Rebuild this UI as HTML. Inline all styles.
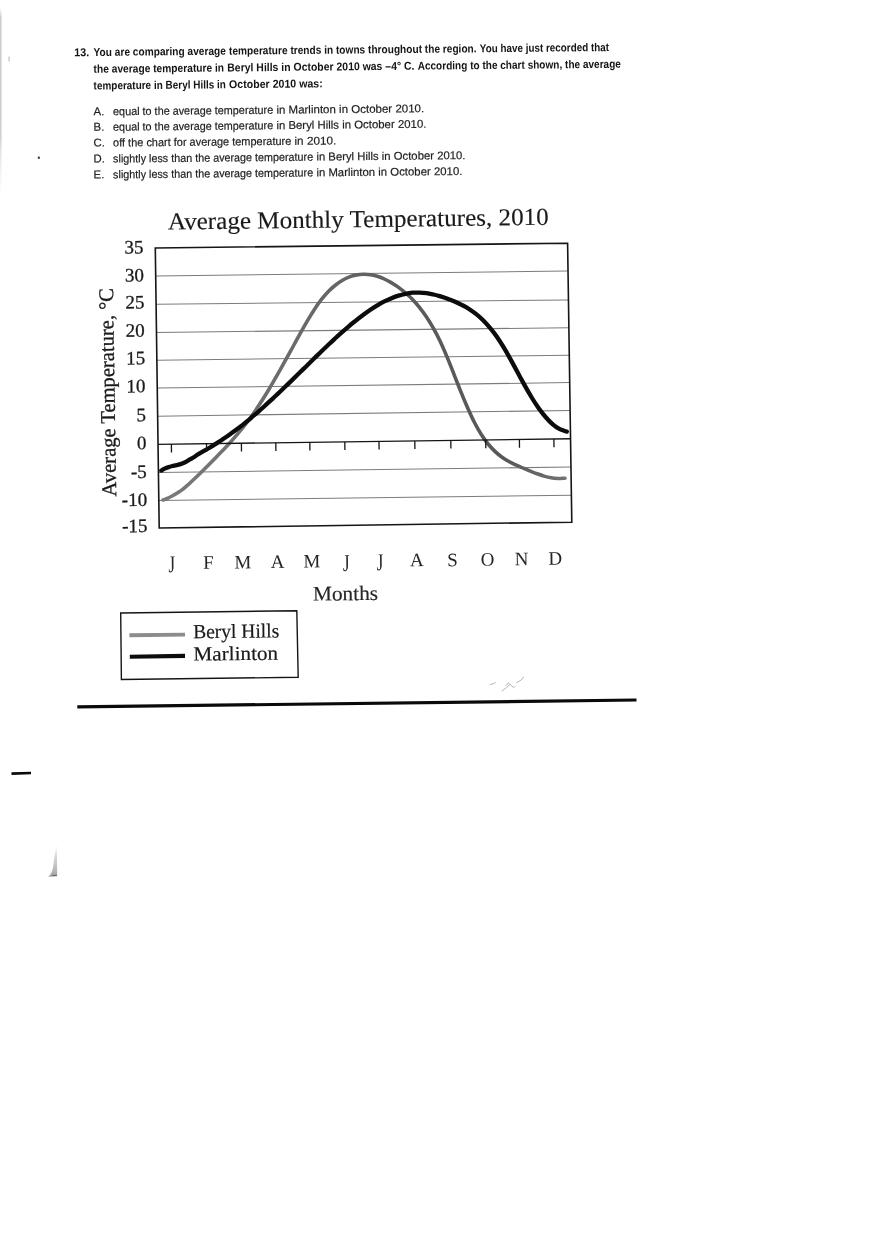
<!DOCTYPE html>
<html lang="en"><head><meta charset="utf-8"><title>Question 13</title>
<style>
html,body{margin:0;padding:0;background:#fff;}
body{width:880px;height:1247px;overflow:hidden;position:relative;}
svg{display:block;position:absolute;left:0;top:0;}
.q{font-family:"Liberation Sans",sans-serif;font-weight:bold;font-size:11.4px;fill:#141414;}
.o{font-family:"Liberation Sans",sans-serif;font-weight:normal;font-size:11.4px;fill:#1e1e1e;stroke:#1e1e1e;stroke-width:0.2px;}
.s{font-family:"Liberation Serif",serif;fill:#1a1a1a;stroke:#1a1a1a;stroke-width:0.3px;}
.m{font-family:"Liberation Serif",serif;fill:#262626;}
</style></head><body>
<svg width="880" height="1247" viewBox="0 0 880 1247" style="filter:blur(0.3px)">
<defs><linearGradient id="edge" x1="0" y1="0" x2="0" y2="1"><stop offset="0" stop-color="#cfcfcf" stop-opacity="0"/><stop offset="0.05" stop-color="#cdcdcd"/><stop offset="0.68" stop-color="#d0d0d0"/><stop offset="0.74" stop-color="#e2e2e2"/><stop offset="1" stop-color="#ececec" stop-opacity="0"/></linearGradient></defs>
<rect x="0" y="0" width="880" height="1247" fill="#ffffff"/>
<rect x="0" y="8" width="1.6" height="190" fill="url(#edge)"/>
<rect x="8.6" y="56.5" width="1" height="5" fill="#b5b5b5"/>
<rect x="37.8" y="156.6" width="2" height="2.2" fill="#333"/>
<text class="q" x="74.2" y="56.3" textLength="15.0" lengthAdjust="spacingAndGlyphs" transform="rotate(-0.55 74.2 56.3)">13.</text>
<text class="q" x="93.6" y="56.0" textLength="132.3" lengthAdjust="spacingAndGlyphs" transform="rotate(-0.55 93.6 56.0)">You are comparing average</text>
<text class="q" x="229.1" y="54.7" textLength="247.5" lengthAdjust="spacingAndGlyphs" transform="rotate(-0.55 229.1 54.7)">temperature trends in towns throughout the region.</text>
<text class="q" x="479.8" y="52.3" textLength="129.3" lengthAdjust="spacingAndGlyphs" transform="rotate(-0.55 479.8 52.3)">You have just recorded that</text>
<text class="q" x="93.6" y="72.8" textLength="130.5" lengthAdjust="spacingAndGlyphs" transform="rotate(-0.55 93.6 72.8)">the average temperature in</text>
<text class="q" x="227.3" y="71.5" textLength="187.2" lengthAdjust="spacingAndGlyphs" transform="rotate(-0.55 227.3 71.5)">Beryl Hills in October 2010 was –4° C.</text>
<text class="q" x="417.7" y="69.7" textLength="203.2" lengthAdjust="spacingAndGlyphs" transform="rotate(-0.55 417.7 69.7)">According to the chart shown, the average</text>
<text class="q" x="93.6" y="89.5" textLength="132.3" lengthAdjust="spacingAndGlyphs" transform="rotate(-0.55 93.6 89.5)">temperature in Beryl Hills in</text>
<text class="q" x="229.1" y="88.2" textLength="93.6" lengthAdjust="spacingAndGlyphs" transform="rotate(-0.55 229.1 88.2)">October 2010 was:</text>
<text class="o" x="93.6" y="115.3" transform="rotate(-0.55 93.6 115.3)">A.</text>
<text class="o" x="113.1" y="115.3" textLength="160.1" lengthAdjust="spacingAndGlyphs" transform="rotate(-0.55 113.1 115.3)">equal to the average temperature</text>
<text class="o" x="276.4" y="113.7" textLength="147.8" lengthAdjust="spacingAndGlyphs" transform="rotate(-0.55 276.4 113.7)">in Marlinton in October 2010.</text>
<text class="o" x="93.6" y="130.8" transform="rotate(-0.55 93.6 130.8)">B.</text>
<text class="o" x="113.1" y="130.8" textLength="160.1" lengthAdjust="spacingAndGlyphs" transform="rotate(-0.55 113.1 130.8)">equal to the average temperature</text>
<text class="o" x="276.4" y="129.2" textLength="150.0" lengthAdjust="spacingAndGlyphs" transform="rotate(-0.55 276.4 129.2)">in Beryl Hills in October 2010.</text>
<text class="o" x="93.6" y="146.6" transform="rotate(-0.55 93.6 146.6)">C.</text>
<text class="o" x="113.1" y="146.6" textLength="178.2" lengthAdjust="spacingAndGlyphs" transform="rotate(-0.55 113.1 146.6)">off the chart for average temperature</text>
<text class="o" x="294.5" y="144.9" textLength="41.9" lengthAdjust="spacingAndGlyphs" transform="rotate(-0.55 294.5 144.9)">in 2010.</text>
<text class="o" x="93.6" y="162.6" transform="rotate(-0.55 93.6 162.6)">D.</text>
<text class="o" x="113.1" y="162.6" textLength="200.1" lengthAdjust="spacingAndGlyphs" transform="rotate(-0.55 113.1 162.6)">slightly less than the average temperature</text>
<text class="o" x="316.4" y="160.6" textLength="149.1" lengthAdjust="spacingAndGlyphs" transform="rotate(-0.55 316.4 160.6)">in Beryl Hills in October 2010.</text>
<text class="o" x="93.6" y="178.4" transform="rotate(-0.55 93.6 178.4)">E.</text>
<text class="o" x="113.1" y="178.4" textLength="200.1" lengthAdjust="spacingAndGlyphs" transform="rotate(-0.55 113.1 178.4)">slightly less than the average temperature</text>
<text class="o" x="316.4" y="176.4" textLength="146.0" lengthAdjust="spacingAndGlyphs" transform="rotate(-0.55 316.4 176.4)">in Marlinton in October 2010.</text>
<text class="s" x="167.9" y="229.6" textLength="381.0" lengthAdjust="spacingAndGlyphs" transform="rotate(-0.72 167.9 229.6)" style="font-size:24.5px;stroke-width:0.15px">Average Monthly Temperatures, 2010</text>
<line x1="155.7" y1="276.0" x2="568.0" y2="271.0" stroke="#7c7c7c" stroke-width="1.05"/>
<line x1="156.1" y1="304.3" x2="568.4" y2="299.9" stroke="#7c7c7c" stroke-width="1.05"/>
<line x1="156.5" y1="332.5" x2="568.9" y2="327.7" stroke="#7c7c7c" stroke-width="1.05"/>
<line x1="156.9" y1="360.2" x2="569.3" y2="355.2" stroke="#7c7c7c" stroke-width="1.05"/>
<line x1="157.2" y1="388.1" x2="569.7" y2="382.6" stroke="#7c7c7c" stroke-width="1.05"/>
<line x1="157.6" y1="416.2" x2="570.1" y2="410.5" stroke="#7c7c7c" stroke-width="1.05"/>
<line x1="158.4" y1="472.5" x2="571.0" y2="467.0" stroke="#7c7c7c" stroke-width="1.05"/>
<line x1="158.8" y1="500.5" x2="571.4" y2="495.2" stroke="#7c7c7c" stroke-width="1.05"/>
<defs><linearGradient id="gg" gradientUnits="userSpaceOnUse" x1="160" y1="0" x2="568" y2="0"><stop offset="0" stop-color="#7a7a7a"/><stop offset="0.3" stop-color="#6c6c6c"/><stop offset="0.66" stop-color="#5a5a5a"/><stop offset="0.85" stop-color="#585858"/><stop offset="1" stop-color="#747474"/></linearGradient></defs>
<path d="M163.0 500.0C163.9 499.6 166.9 498.6 168.6 497.8C170.3 497.0 171.7 496.2 173.2 495.4C174.7 494.5 176.2 493.6 177.7 492.7C179.2 491.8 180.3 491.3 182.3 489.7C184.3 488.1 187.2 485.4 189.6 483.3C192.0 481.2 194.3 479.0 196.6 476.8C198.9 474.6 201.2 472.2 203.5 469.9C205.8 467.6 208.2 465.2 210.5 462.9C212.8 460.6 215.1 458.3 217.4 455.9C219.7 453.5 222.1 451.1 224.4 448.7C226.7 446.2 229.0 443.8 231.3 441.2C233.6 438.6 236.0 436.0 238.3 433.2C240.6 430.4 242.9 427.6 245.2 424.6C247.5 421.6 249.9 418.5 252.2 415.2C254.5 411.9 256.8 408.5 259.1 405.0C261.4 401.5 263.8 397.8 266.1 394.0C268.4 390.2 270.7 386.3 273.0 382.3C275.3 378.3 277.7 374.3 280.0 370.2C282.3 366.1 284.6 361.9 286.9 357.7C289.2 353.5 291.6 349.2 293.9 345.0C296.2 340.8 298.5 336.4 300.8 332.3C303.1 328.2 305.5 324.0 307.8 320.1C310.1 316.2 312.4 312.4 314.7 308.9C317.0 305.4 319.4 302.1 321.7 299.2C324.0 296.3 326.3 293.7 328.6 291.3C330.9 288.9 333.3 286.8 335.6 285.0C337.9 283.2 340.2 281.7 342.5 280.3C344.8 278.9 347.2 277.8 349.5 276.9C351.8 276.0 354.1 275.4 356.4 275.0C358.7 274.6 361.1 274.4 363.4 274.3C365.7 274.2 368.1 274.4 370.4 274.7C372.7 275.0 375.0 275.6 377.3 276.3C379.6 277.0 382.0 277.9 384.3 279.0C386.6 280.1 388.9 281.2 391.2 282.6C393.5 284.0 395.9 285.4 398.2 287.1C400.5 288.8 402.8 290.6 405.1 292.6C407.4 294.6 409.8 296.6 412.1 299.0C414.4 301.4 416.7 303.9 419.0 306.8C421.3 309.7 423.7 312.8 426.0 316.2C428.3 319.6 430.6 323.3 432.9 327.4C435.2 331.5 437.6 335.9 439.9 340.7C442.2 345.5 444.5 350.9 446.8 356.4C449.1 361.9 451.5 368.0 453.8 373.8C456.1 379.6 458.4 385.7 460.7 391.4C463.0 397.1 465.4 402.8 467.7 408.0C470.0 413.2 472.3 418.3 474.6 422.8C476.9 427.3 479.3 431.4 481.6 435.0C483.9 438.6 486.2 441.7 488.5 444.5C490.8 447.3 493.2 449.7 495.5 451.9C497.8 454.1 500.1 455.9 502.4 457.5C504.7 459.1 507.1 460.5 509.4 461.8C511.7 463.1 514.0 464.1 516.3 465.2C518.6 466.3 521.0 467.2 523.3 468.2C525.6 469.2 527.9 470.2 530.2 471.1C532.5 472.0 534.9 473.0 537.2 473.8C539.5 474.6 541.8 475.4 544.1 476.1C546.4 476.8 548.8 477.4 551.1 477.8C553.4 478.2 555.7 478.4 558.0 478.5C560.3 478.6 563.8 478.2 565.0 478.2" fill="none" stroke="url(#gg)" stroke-width="3.6" stroke-linecap="round" stroke-linejoin="round"/>
<path d="M161.3 470.6C161.8 470.3 162.9 469.5 164.1 468.9C165.3 468.3 167.1 467.6 168.6 467.1C170.1 466.6 171.7 466.2 173.2 465.8C174.7 465.4 176.3 465.2 177.8 464.8C179.3 464.4 180.8 464.0 182.3 463.4C183.8 462.8 185.3 462.1 186.8 461.3C188.3 460.5 189.9 459.5 191.4 458.6C192.9 457.7 194.5 456.7 196.0 455.7C197.5 454.7 198.3 454.1 200.5 452.8C202.7 451.5 206.5 449.5 209.1 448.0C211.7 446.5 213.8 445.1 216.1 443.6C218.4 442.1 220.8 440.6 223.1 439.0C225.4 437.4 227.8 435.9 230.1 434.2C232.4 432.5 234.8 430.8 237.2 429.0C239.5 427.2 241.9 425.5 244.2 423.6C246.5 421.7 248.9 419.8 251.2 417.8C253.5 415.8 255.9 413.9 258.2 411.8C260.5 409.8 262.9 407.6 265.2 405.5C267.5 403.4 269.9 401.3 272.2 399.1C274.5 396.9 276.9 394.7 279.2 392.5C281.5 390.3 283.8 388.1 286.2 385.8C288.6 383.5 290.9 381.2 293.3 378.9C295.7 376.6 298.0 374.4 300.3 372.1C302.6 369.8 305.0 367.5 307.3 365.2C309.6 362.9 312.0 360.6 314.3 358.3C316.6 356.0 319.0 353.8 321.3 351.5C323.6 349.2 326.0 347.0 328.3 344.8C330.6 342.6 333.0 340.5 335.3 338.3C337.6 336.1 340.0 334.0 342.4 331.9C344.8 329.8 347.1 327.8 349.4 325.8C351.7 323.8 354.1 322.0 356.4 320.1C358.7 318.2 361.1 316.4 363.4 314.7C365.7 313.0 368.1 311.3 370.4 309.7C372.7 308.1 375.1 306.7 377.4 305.3C379.7 303.9 382.0 302.6 384.4 301.4C386.8 300.2 389.1 299.2 391.5 298.2C393.9 297.2 396.2 296.3 398.5 295.6C400.8 294.9 403.2 294.3 405.5 293.8C407.8 293.3 410.2 292.9 412.5 292.7C414.8 292.5 417.2 292.5 419.5 292.6C421.8 292.7 424.2 292.9 426.5 293.2C428.8 293.5 431.1 294.0 433.5 294.5C435.9 295.0 438.2 295.7 440.6 296.4C443.0 297.1 445.3 297.9 447.6 298.8C449.9 299.7 452.3 300.5 454.6 301.5C456.9 302.5 459.3 303.6 461.6 304.8C463.9 306.0 466.3 307.2 468.6 308.7C470.9 310.2 473.3 311.8 475.6 313.6C477.9 315.4 480.3 317.4 482.6 319.7C484.9 322.0 487.2 324.5 489.6 327.3C492.0 330.1 494.4 333.1 496.7 336.5C499.0 339.9 501.4 343.5 503.7 347.4C506.0 351.2 508.4 355.4 510.7 359.6C513.0 363.8 515.4 368.2 517.7 372.5C520.0 376.8 522.4 381.2 524.7 385.4C527.0 389.6 529.4 393.7 531.7 397.5C534.0 401.3 536.4 404.9 538.7 408.2C541.1 411.5 543.4 414.5 545.8 417.2C548.1 419.9 550.5 422.3 552.8 424.3C555.1 426.3 557.5 428.0 559.8 429.2C562.1 430.4 565.6 431.2 566.8 431.6" fill="none" stroke="#0c0c0c" stroke-width="4.3" stroke-linecap="round" stroke-linejoin="round"/>
<line x1="158.0" y1="444.4" x2="570.5" y2="438.8" stroke="#151515" stroke-width="1.4"/>
<line x1="171.4" y1="444.2" x2="171.5" y2="452.4" stroke="#151515" stroke-width="1.3"/>
<line x1="206.5" y1="443.7" x2="206.6" y2="451.9" stroke="#151515" stroke-width="1.3"/>
<line x1="241.4" y1="443.3" x2="241.5" y2="451.5" stroke="#151515" stroke-width="1.3"/>
<line x1="275.8" y1="442.8" x2="275.9" y2="451.0" stroke="#151515" stroke-width="1.3"/>
<line x1="309.8" y1="442.3" x2="309.9" y2="450.5" stroke="#151515" stroke-width="1.3"/>
<line x1="344.8" y1="441.9" x2="344.9" y2="450.1" stroke="#151515" stroke-width="1.3"/>
<line x1="379.0" y1="441.4" x2="379.1" y2="449.6" stroke="#151515" stroke-width="1.3"/>
<line x1="414.8" y1="440.9" x2="414.9" y2="449.1" stroke="#151515" stroke-width="1.3"/>
<line x1="450.8" y1="440.4" x2="450.9" y2="448.6" stroke="#151515" stroke-width="1.3"/>
<line x1="485.7" y1="440.0" x2="485.8" y2="448.2" stroke="#151515" stroke-width="1.3"/>
<line x1="519.4" y1="439.5" x2="519.5" y2="447.7" stroke="#151515" stroke-width="1.3"/>
<line x1="553.9" y1="439.0" x2="554.0" y2="447.2" stroke="#151515" stroke-width="1.3"/>
<polygon points="155.3,248.0 567.6,243.2 571.8,522.2 159.2,528.0" fill="none" stroke="#151515" stroke-width="1.6"/>
<text class="s" x="143.6" y="253.4" text-anchor="end" style="font-size:19px" transform="rotate(-0.6 143.6 253.4)">35</text>
<text class="s" x="144.0" y="281.3" text-anchor="end" style="font-size:19px" transform="rotate(-0.6 144.0 281.3)">30</text>
<text class="s" x="144.4" y="308.4" text-anchor="end" style="font-size:19px" transform="rotate(-0.6 144.4 308.4)">25</text>
<text class="s" x="144.8" y="336.6" text-anchor="end" style="font-size:19px" transform="rotate(-0.6 144.8 336.6)">20</text>
<text class="s" x="145.2" y="364.2" text-anchor="end" style="font-size:19px" transform="rotate(-0.6 145.2 364.2)">15</text>
<text class="s" x="145.6" y="392.2" text-anchor="end" style="font-size:19px" transform="rotate(-0.6 145.6 392.2)">10</text>
<text class="s" x="146.0" y="421.2" text-anchor="end" style="font-size:19px" transform="rotate(-0.6 146.0 421.2)">5</text>
<text class="s" x="146.4" y="449.2" text-anchor="end" style="font-size:19px" transform="rotate(-0.6 146.4 449.2)">0</text>
<text class="s" x="146.8" y="477.8" text-anchor="end" style="font-size:19px" transform="rotate(-0.6 146.8 477.8)">-5</text>
<text class="s" x="147.2" y="505.8" text-anchor="end" style="font-size:19px" transform="rotate(-0.6 147.2 505.8)">-10</text>
<text class="s" x="147.6" y="532.0" text-anchor="end" style="font-size:19px" transform="rotate(-0.6 147.6 532.0)">-15</text>
<text class="s" x="116.3" y="496.5" style="font-size:21px" textLength="208.5" lengthAdjust="spacingAndGlyphs" transform="rotate(-90.9 116.2 496.5)">Average Temperature, °C</text>
<text class="m" x="0" y="0" text-anchor="middle" style="font-size:19px" transform="translate(171.9 572.1) rotate(-0.6) scale(0.9 1.27)">J</text>
<text class="m" x="208.5" y="568.6" text-anchor="middle" style="font-size:19px" transform="rotate(-0.6 208.5 568.6)">F</text>
<text class="m" x="243.0" y="568.3" text-anchor="middle" style="font-size:19px" transform="rotate(-0.6 243.0 568.3)">M</text>
<text class="m" x="277.5" y="568.0" text-anchor="middle" style="font-size:19px" transform="rotate(-0.6 277.5 568.0)">A</text>
<text class="m" x="311.9" y="567.5" text-anchor="middle" style="font-size:19px" transform="rotate(-0.6 311.9 567.5)">M</text>
<text class="m" x="0" y="0" text-anchor="middle" style="font-size:19px" transform="translate(346.3 571.0) rotate(-0.6) scale(0.9 1.27)">J</text>
<text class="m" x="0" y="0" text-anchor="middle" style="font-size:19px" transform="translate(380.1 570.3) rotate(-0.6) scale(0.9 1.27)">J</text>
<text class="m" x="416.9" y="566.3" text-anchor="middle" style="font-size:19px" transform="rotate(-0.6 416.9 566.3)">A</text>
<text class="m" x="452.5" y="566.2" text-anchor="middle" style="font-size:19px" transform="rotate(-0.6 452.5 566.2)">S</text>
<text class="m" x="487.5" y="565.8" text-anchor="middle" style="font-size:19px" transform="rotate(-0.6 487.5 565.8)">O</text>
<text class="m" x="521.5" y="565.1" text-anchor="middle" style="font-size:19px" transform="rotate(-0.6 521.5 565.1)">N</text>
<text class="m" x="555.4" y="564.6" text-anchor="middle" style="font-size:19px" transform="rotate(-0.6 555.4 564.6)">D</text>
<text class="m" x="312.9" y="600.6" textLength="65.3" lengthAdjust="spacingAndGlyphs" transform="rotate(-0.60 312.9 600.6)" style="font-size:20.6px;stroke:#262626;stroke-width:0.15px">Months</text>
<polygon points="120.7,613 296.8,610.7 298.2,677.3 121.4,679.5" fill="none" stroke="#151515" stroke-width="1.4"/>
<line x1="129.4" y1="635.3" x2="185" y2="634.6" stroke="#8c8c8c" stroke-width="3.9"/>
<line x1="129.8" y1="656.7" x2="185" y2="655.9" stroke="#0c0c0c" stroke-width="4.1"/>
<text class="s" x="193.2" y="638.3" textLength="86.1" lengthAdjust="spacingAndGlyphs" transform="rotate(-0.60 193.2 638.3)" style="font-size:20px;stroke-width:0.2px">Beryl Hills</text>
<text class="s" x="193.5" y="660.6" textLength="84.7" lengthAdjust="spacingAndGlyphs" transform="rotate(-0.60 193.5 660.6)" style="font-size:20px;stroke-width:0.2px">Marlinton</text>
<line x1="77.3" y1="706.9" x2="636.5" y2="700.0" stroke="#0a0a0a" stroke-width="3.2"/>
<line x1="11.5" y1="773.6" x2="31" y2="773.0" stroke="#0a0a0a" stroke-width="2.6"/>
<defs><linearGradient id="wg" x1="0" y1="0" x2="0" y2="1"><stop offset="0" stop-color="#efefef" stop-opacity="0"/><stop offset="0.35" stop-color="#dcdcdc"/><stop offset="0.8" stop-color="#b9b9b9"/><stop offset="1" stop-color="#a0a0a0"/></linearGradient></defs>
<path d="M56.9 843 L57.2 876.3 L48.2 876.7 Q52.2 873.6 53.3 866 Q54 858 55.6 850 Z" fill="url(#wg)"/>
<line x1="52.2" y1="875.6" x2="57" y2="875.3" stroke="#6a6a6a" stroke-width="1.1"/>
<path d="M490.2 684.5q3 0 5.1-1.8M502 691l4.2-3.3M506.2 685.6l2.1-2.9l1.7 1.7l3.4 3l1.7-1M507 687.2l3-2.8M516.5 682.8l4.4-2.5l2.7-3.4" fill="none" stroke="#a3a3a3" stroke-width="0.8" stroke-linecap="round" stroke-linejoin="round"/>
</svg>
</body></html>
